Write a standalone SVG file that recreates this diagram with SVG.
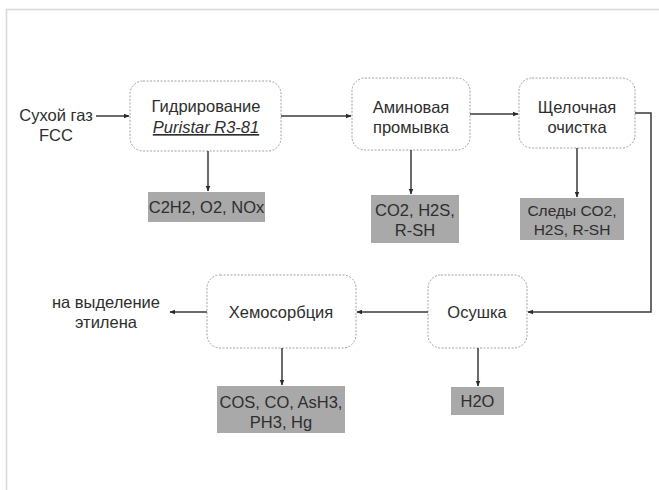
<svg xmlns="http://www.w3.org/2000/svg" width="659" height="490" viewBox="0 0 659 490">
<style>
.node{fill:#fff;stroke:#a0a0a0;stroke-width:1;stroke-dasharray:2 1.5}
.box{fill:#a9a9a9;stroke:none}
.t{font-family:"Liberation Sans",Arial,sans-serif;font-size:16.5px;fill:#2e2e2e;text-anchor:middle}
.s{font-size:15.5px}
.c{fill:none;stroke:#3a3a3a;stroke-width:1.5}
</style>
<defs>
<marker id="ah" viewBox="0 0 10 10" refX="9" refY="5" markerWidth="6" markerHeight="6" markerUnits="userSpaceOnUse" orient="auto">
<path d="M0,1 L10,5 L0,9 Z" fill="#2a2a2a"/>
</marker>
</defs>
<rect x="0" y="0" width="659" height="490" fill="#fff"/>
<path d="M6.5,490 V9.5 H659" fill="none" stroke="#d8d8d8" stroke-width="1.5"/>

<g id="input">
<text class="t" x="56" y="121">Сухой газ</text>
<text class="t" x="56" y="141">FCC</text>
</g>

<g id="n1">
<rect class="node" x="130" y="81" width="151" height="70" rx="13"/>
<text class="t" x="206" y="112">Гидрирование</text>
<text class="t" x="206" y="133" font-style="italic" text-decoration="underline">Puristar R3-81</text>
</g>
<g id="b1">
<rect class="box" x="148" y="192" width="117" height="30"/>
<text class="t" x="206.5" y="213">C2H2, O2, NOx</text>
</g>

<g id="n2">
<rect class="node" x="352" y="78" width="118" height="72" rx="13"/>
<text class="t" x="411" y="113">Аминовая</text>
<text class="t" x="411" y="133">промывка</text>
</g>
<g id="b2">
<rect class="box" x="371" y="195" width="88" height="48"/>
<text class="t" x="415" y="216">CO2, H2S,</text>
<text class="t" x="415" y="236">R-SH</text>
</g>

<g id="n3">
<rect class="node" x="519" y="78" width="116" height="70" rx="13"/>
<text class="t" x="577" y="113">Щелочная</text>
<text class="t" x="577" y="133">очистка</text>
</g>
<g id="b3">
<rect class="box" x="520" y="198" width="104" height="42"/>
<text class="t s" x="572" y="216">Следы CO2,</text>
<text class="t s" x="572" y="235">H2S, R-SH</text>
</g>

<g id="n4">
<rect class="node" x="428" y="275" width="99" height="73" rx="13"/>
<text class="t" x="477" y="318">Осушка</text>
</g>
<g id="b4">
<rect class="box" x="451" y="387" width="53" height="28"/>
<text class="t" x="477.5" y="407">H2O</text>
</g>

<g id="n5">
<rect class="node" x="207" y="275" width="149" height="73" rx="13"/>
<text class="t" x="281" y="318">Хемосорбция</text>
</g>
<g id="b5">
<rect class="box" x="217" y="386" width="128" height="47"/>
<text class="t" x="281" y="408">COS, CO, AsH3,</text>
<text class="t" x="281" y="428">PH3, Hg</text>
</g>

<g id="output">
<text class="t" x="106" y="308">на выделение</text>
<text class="t" x="106" y="328">этилена</text>
</g>

<g id="connectors">
<path class="c" d="M96,116 H129" marker-end="url(#ah)"/>
<path class="c" d="M281,116 H351" marker-end="url(#ah)"/>
<path class="c" d="M470,114 H518" marker-end="url(#ah)"/>
<path class="c" d="M635,113 H651 V312 H528" marker-end="url(#ah)"/>
<path class="c" d="M428,312 H357" marker-end="url(#ah)"/>
<path class="c" d="M207,312 H170" marker-end="url(#ah)"/>
<path class="c" d="M208,151 V191" marker-end="url(#ah)"/>
<path class="c" d="M411,150 V194" marker-end="url(#ah)"/>
<path class="c" d="M577,148 V197" marker-end="url(#ah)"/>
<path class="c" d="M478,348 V386" marker-end="url(#ah)"/>
<path class="c" d="M282,348 V385" marker-end="url(#ah)"/>
</g>
</svg>
